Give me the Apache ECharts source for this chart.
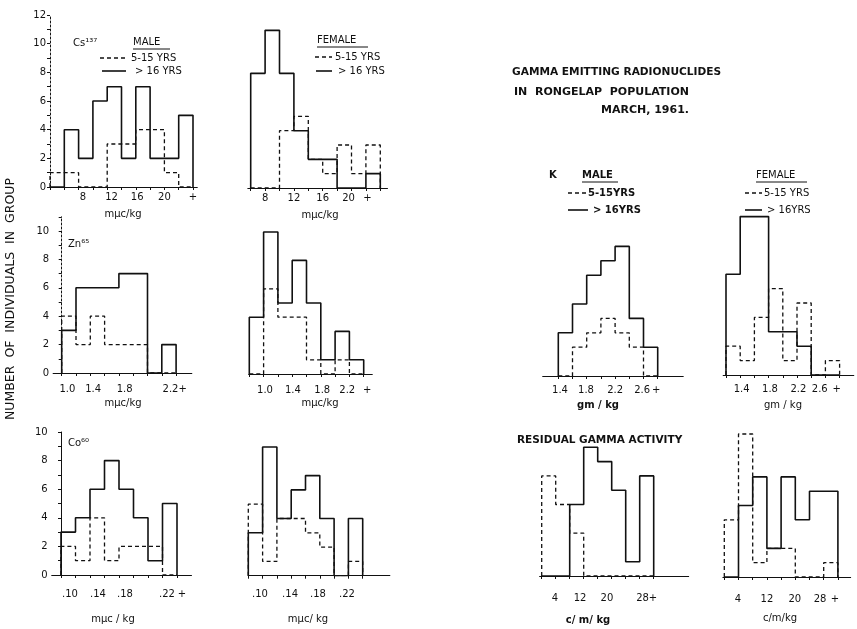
<!DOCTYPE html>
<html><head><meta charset="utf-8">
<script src="https://cdn.jsdelivr.net/npm/echarts@6/dist/echarts.min.js"></script>
<style>html,body{margin:0;padding:0;background:#fff}#c{width:857px;height:629px}</style>
</head><body><div id="c"></div><script>
// ---------- DATA (counts of individuals per bin) ----------
// Cs-137 (mμc/kg)
const csMaleBins   = ['4-6','6-8','8-10','10-12','12-14','14-16','16-18','18-20','20-22','22+'];
const csMaleYoung  = [1,1,0,0,3,3,4,4,1,0];
const csMaleAdult  = [0,4,2,6,7,2,7,2,2,5];
const csMaleTicks  = ['8','12','16','20','+'];
const csFemaleBins  = ['6-8','8-10','10-12','12-14','14-16','16-18','18-20','20-22','22+'];
const csFemaleYoung = [0,0,4,5,2,1,3,1,3];
const csFemaleAdult = [8,11,8,4,2,2,0,0,1];
const csFemaleTicks = ['8','12','16','20','+'];
// Zn-65 (mμc/kg)
const znMaleBins   = ['0.9-1.1','1.1-1.3','1.3-1.5','1.5-1.7','1.7-1.9','1.9-2.1','2.1-2.3','2.3+'];
const znMaleYoung  = [4,2,4,2,2,2,0,0];
const znMaleAdult  = [3,6,6,6,7,7,0,2];
const znMaleTicks  = ['1.0','1.4','1.8','2.2+'];
const znFemaleBins  = ['0.8-1.0','1.0-1.2','1.2-1.4','1.4-1.6','1.6-1.8','1.8-2.0','2.0-2.2','2.2+'];
const znFemaleYoung = [0,6,4,4,1,0,1,0];
const znFemaleAdult = [4,10,5,8,5,1,3,1];
const znFemaleTicks = ['1.0','1.4','1.8','2.2','+'];
// Co-60 (mμc/kg)
const coMaleBins   = ['.08-.10','.10-.12','.12-.14','.14-.16','.16-.18','.18-.20','.20-.22','.22+'];
const coMaleYoung  = [2,1,4,1,2,2,2,0];
const coMaleAdult  = [3,4,6,8,6,4,1,5];
const coMaleTicks  = ['.10','.14','.18','.22','+'];
const coFemaleBins  = ['.08-.10','.10-.12','.12-.14','.14-.16','.16-.18','.18-.20','.20-.22','.22+'];
const coFemaleYoung = [5,1,4,4,3,2,0,1];
const coFemaleAdult = [3,9,4,6,7,4,0,4];
const coFemaleTicks = ['.10','.14','.18','.22'];
// K (gm/kg)
const kMaleBins   = ['1.4-1.6','1.6-1.8','1.8-2.0','2.0-2.2','2.2-2.4','2.4-2.6','2.6+'];
const kMaleYoung  = [0,2,3,4,3,2,0];
const kMaleAdult  = [3,5,7,8,9,4,2];
const kMaleTicks  = ['1.4','1.8','2.2','2.6','+'];
const kFemaleBins  = ['1.2-1.4','1.4-1.6','1.6-1.8','1.8-2.0','2.0-2.2','2.2-2.4','2.4-2.6','2.6+'];
const kFemaleYoung = [2,1,4,6,1,5,0,1];
const kFemaleAdult = [7,11,11,3,3,2,0,0];
const kFemaleTicks = ['1.4','1.8','2.2','2.6','+'];
// Residual gamma activity (c/m/kg)
const resMaleBins   = ['0-4','4-8','8-12','12-16','16-20','20-24','24-28','28+'];
const resMaleYoung  = [7,5,3,0,0,0,0,0];
const resMaleAdult  = [0,0,5,9,8,6,1,7];
const resMaleTicks  = ['4','12','20','28+'];
const resFemaleBins  = ['0-4','4-8','8-12','12-16','16-20','20-24','24-28','28+'];
const resFemaleYoung = [4,10,1,2,2,0,0,1];
const resFemaleAdult = [0,5,7,2,7,4,6,6];
const resFemaleTicks = ['4','12','20','28','+'];

// ---------- LAYOUT (pixel placement of each panel) ----------
const FONT = "'DejaVu Sans', sans-serif";
const panels = [
  {bins:csMaleBins, young:csMaleYoung, adult:csMaleAdult, ticks:csMaleTicks, tickAt:[2.3,4.3,6.1,8,10],
   e0:50, w:14.3, base:187, ppu:14.33, xmin:0, xmax:10.3, ymax:12, lm:5, yAxis:'dotted'},
  {bins:csFemaleBins, young:csFemaleYoung, adult:csFemaleAdult, ticks:csFemaleTicks, tickAt:[1,3,5,6.8,8.1],
   e0:250.7, w:14.4, base:188, ppu:14.33, xmin:-0.2, xmax:9.5, ymax:12, lm:5},
  {bins:znMaleBins, young:znMaleYoung, adult:znMaleAdult, ticks:znMaleTicks, tickAt:[0.4,2.2,4.4,7.9],
   e0:61.7, w:14.3, base:373, ppu:14.2, xmin:-0.6, xmax:9.1, ymax:11, lm:11, yAxis:'dotted'},
  {bins:znFemaleBins, young:znFemaleYoung, adult:znFemaleAdult, ticks:znFemaleTicks, tickAt:[1.1,3.05,5.1,6.85,8.25],
   e0:249.3, w:14.3, base:374, ppu:14.2, xmin:-0.05, xmax:8.6, ymax:11, lm:11},
  {bins:coMaleBins, young:coMaleYoung, adult:coMaleAdult, ticks:coMaleTicks, tickAt:[0.62,2.55,4.41,7.31,8.34],
   e0:61, w:14.5, base:575, ppu:14.3, xmin:-0.64, xmax:9.0, ymax:10, lm:14, yAxis:'solid'},
  {bins:coFemaleBins, young:coFemaleYoung, adult:coFemaleAdult, ticks:coFemaleTicks, tickAt:[0.82,2.92,4.87,6.9],
   e0:248.3, w:14.3, base:575.7, ppu:14.3, xmin:0, xmax:9.9, ymax:10, lm:14},
  {bins:kMaleBins, young:kMaleYoung, adult:kMaleAdult, ticks:kMaleTicks, tickAt:[0.12,1.95,4.0,5.9,6.9],
   e0:558.3, w:14.2, base:376, ppu:14.4, xmin:-1.1, xmax:8.8, ymax:10, lm:9},
  {bins:kFemaleBins, young:kFemaleYoung, adult:kFemaleAdult, ticks:kFemaleTicks, tickAt:[1.1,3.1,5.1,6.6,7.8],
   e0:726, w:14.2, base:375, ppu:14.4, xmin:-0.2, xmax:9.0, ymax:11.5, lm:9},
  {bins:resMaleBins, young:resMaleYoung, adult:resMaleAdult, ticks:resMaleTicks, tickAt:[0.95,2.74,4.66,7.5],
   e0:541.7, w:14, base:576, ppu:14.3, xmin:-0.15, xmax:10.5, ymax:10, lm:17},
  {bins:resFemaleBins, young:resFemaleYoung, adult:resFemaleAdult, ticks:resFemaleTicks, tickAt:[0.96,3.0,4.97,6.74,7.79],
   e0:724.3, w:14.2, base:577, ppu:14.3, xmin:-0.1, xmax:8.9, ymax:10.5, lm:17}
];

function stepData(counts) {
  const d = [[0, 0]];
  counts.forEach((c, i) => d.push([i, c]));
  d.push([counts.length, 0]);
  return d;
}

const grids = [], xAxes = [], yAxes = [], series = [];
panels.forEach((P, k) => {
  const left = P.e0 + P.xmin * P.w;
  grids.push({left: left, width: (P.xmax - P.xmin) * P.w, top: P.base - P.ymax * P.ppu,
              height: P.ymax * P.ppu, containLabel: false, outerBoundsMode: 'none'});
  const edges = P.bins.map((b, i) => i).concat([P.bins.length]);
  xAxes.push({
    type: 'value', gridIndex: k, min: P.xmin, max: P.xmax,
    axisLine: {show: true, onZero: false, lineStyle: {color: '#111', width: 1}},
    axisTick: {show: true, customValues: edges, length: 3, lineStyle: {color: '#111'}},
    axisLabel: {show: true, customValues: P.tickAt, margin: P.lm, fontSize: 10, color: '#111', fontFamily: FONT,
      formatter: (v) => { const j = P.tickAt.findIndex(p => Math.abs(p - v) < 1e-6); return j >= 0 ? P.ticks[j] : ''; }},
    splitLine: {show: false}
  });
  yAxes.push({
    type: 'value', gridIndex: k, min: 0, max: P.ymax, interval: 1, show: !!P.yAxis,
    axisLine: {show: !!P.yAxis, lineStyle: {color: '#111', width: 1, type: P.yAxis === 'dotted' ? [2, 2] : 'solid'}},
    axisTick: {show: true, length: 3, lineStyle: {color: '#111'}},
    axisLabel: {show: true, margin: 4, fontSize: 10, color: '#111', fontFamily: FONT,
      formatter: (v) => (v % 2 === 0 ? String(v) : '')},
    splitLine: {show: false}
  });
  series.push({
    name: '> 16 YRS', type: 'line', xAxisIndex: k, yAxisIndex: k, step: 'end', symbol: 'none',
    data: stepData(P.adult), lineStyle: {color: '#111', width: 1.6}, silent: true, animation: false, z: 3
  });
  series.push({
    name: '5-15 YRS', type: 'line', xAxisIndex: k, yAxisIndex: k, step: 'end', symbol: 'none',
    data: stepData(P.young), lineStyle: {color: '#111', width: 1.3, type: [4, 3]}, silent: true, animation: false, z: 4
  });
});

// ---------- TEXT / ANNOTATIONS ----------
function txt(text, x, y, size, opts) {
  opts = opts || {};
  return {type: 'text', x: x, y: y, rotation: opts.rot || 0, silent: true,
    style: {text: text, fill: '#111', font: (opts.bold ? 'bold ' : '') + size + 'px ' + FONT,
            align: opts.align || 'left', verticalAlign: 'middle', textAlign: opts.align || 'left', textVerticalAlign: 'middle'}};
}
function ln(x1, y1, x2, y2, dashed, wdt) {
  return {type: 'line', silent: true, shape: {x1: x1, y1: y1, x2: x2, y2: y2},
    style: {stroke: '#111', lineWidth: wdt || (dashed ? 1.3 : 1.6), lineDash: dashed ? [4, 3] : null}};
}
const graphic = [
  // titles
  txt('GAMMA EMITTING RADIONUCLIDES', 512, 72, 10.6, {bold: true}),
  txt('IN  RONGELAP  POPULATION', 514, 92, 11, {bold: true}),
  txt('MARCH, 1961.', 601, 110, 11, {bold: true}),
  txt('RESIDUAL GAMMA ACTIVITY', 517, 440, 10.5, {bold: true}),
  txt('NUMBER  OF  INDIVIDUALS  IN  GROUP', 11, 299, 12.5, {align: 'center', rot: Math.PI / 2}),
  // nuclide labels
  txt('Cs¹³⁷', 73, 43, 10), txt('Zn⁶⁵', 68, 244, 10), txt('Co⁶⁰', 68, 443, 10), txt('K', 549, 175, 10, {bold: true}),
  // Cs legends
  txt('MALE', 133, 42, 10), ln(133, 49, 170, 49, false, 1),
  ln(100, 58, 125, 58, true), txt('5-15 YRS', 131, 58, 10),
  ln(102, 71, 126, 71, false), txt('> 16 YRS', 135, 71, 10),
  txt('FEMALE', 317, 40, 10), ln(317, 47, 368, 47, false, 1),
  ln(315, 57, 332, 57, true), txt('5-15 YRS', 335, 57, 10),
  ln(316, 71, 332, 71, false), txt('> 16 YRS', 338, 71, 10),
  // K legends
  txt('MALE', 582, 175, 10, {bold: true}), ln(582, 182, 618, 182, false, 1),
  ln(568, 193, 587, 193, true), txt('5-15YRS', 588, 193, 10, {bold: true}),
  ln(568, 210, 588, 210, false), txt('> 16YRS', 593, 210, 10, {bold: true}),
  txt('FEMALE', 756, 175, 10), ln(756, 182, 807, 182, false, 1),
  ln(745, 193, 762, 193, true), txt('5-15 YRS', 764, 193, 10),
  ln(745, 210, 762, 210, false), txt('> 16YRS', 767, 210, 10),
  // units
  txt('mμc/kg', 123, 214, 10, {align: 'center'}), txt('mμc/kg', 320, 215, 10, {align: 'center'}),
  txt('mμc/kg', 123, 403, 10, {align: 'center'}), txt('mμc/kg', 320, 403, 10, {align: 'center'}),
  txt('mμc / kg', 113, 619, 10, {align: 'center'}), txt('mμc/ kg', 308, 619, 10, {align: 'center'}),
  txt('gm / kg', 598, 405, 10, {align: 'center', bold: true}), txt('gm / kg', 783, 405, 10, {align: 'center'}),
  txt('c/ m/ kg', 588, 620, 10, {align: 'center', bold: true}), txt('c/m/kg', 780, 618, 10, {align: 'center'})
];

const chart = echarts.init(document.getElementById('c'), null, {renderer: 'canvas'});
chart.setOption({
  backgroundColor: '#fff', animation: false,
  grid: grids, xAxis: xAxes, yAxis: yAxes, series: series, graphic: graphic
});
</script></body></html>
